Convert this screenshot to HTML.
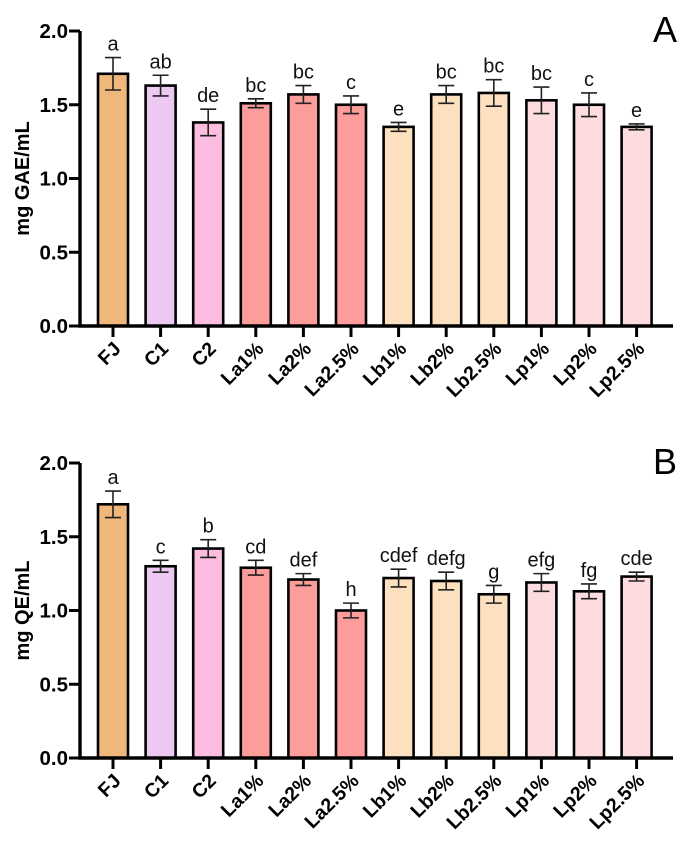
<!DOCTYPE html>
<html><head><meta charset="utf-8"><style>
html,body{margin:0;padding:0;background:#fff;}
svg text{font-family:"Liberation Sans",Arial,sans-serif;}
</style></head><body>
<svg id="chart" width="691" height="849" viewBox="0 0 691 849" xmlns="http://www.w3.org/2000/svg"></svg>
<script>
const categories = ["FJ","C1","C2","La1%","La2%","La2.5%","Lb1%","Lb2%","Lb2.5%","Lp1%","Lp2%","Lp2.5%"];
const colors = ["#f0b77a","#ecc8f3","#fcbde0","#fc9d9b","#fc9d9b","#fc9d9b","#fde0bf","#fde0bf","#fde0bf","#fddcdf","#fddcdf","#fddcdf"];
const valuesA = [1.71,1.63,1.38,1.51,1.57,1.50,1.35,1.57,1.58,1.53,1.50,1.35];
const errorsA = [0.11,0.07,0.09,0.03,0.06,0.06,0.03,0.06,0.09,0.09,0.08,0.02];
const lettersA = ["a","ab","de","bc","bc","c","e","bc","bc","bc","c","e"];
const valuesB = [1.72,1.30,1.42,1.29,1.21,1.00,1.22,1.20,1.11,1.19,1.13,1.23];
const errorsB = [0.09,0.04,0.06,0.05,0.04,0.05,0.06,0.06,0.06,0.06,0.05,0.03];
const lettersB = ["a","c","b","cd","def","h","cdef","defg","g","efg","fg","cde"];
const yTicks = [0,0.5,1.0,1.5,2.0];

const svg = document.getElementById('chart');
const NS = "http://www.w3.org/2000/svg";
function mk(tag, attrs, parent){const e=document.createElementNS(NS,tag);for(const k in attrs)e.setAttribute(k,attrs[k]);(parent||svg).appendChild(e);return e;}

function panel(id, top, bottom, values, errors, letters, ytitle, panelLabel){
  const g = mk('g',{});
  
  
  const x0 = 80, xEnd = 673;
  const y = v => bottom - (v/2.0)*(bottom-top);
  const xc = i => 113 + i*47.6;
  const bw = 30;
  values.forEach((v,i)=>{
    const r = mk('rect',{x:xc(i)-bw/2,y:y(v),width:bw,height:bottom-y(v),fill:colors[i],stroke:'#000','stroke-width':2.6},g);
    
    
    const hi=y(v+errors[i]), lo=y(v-errors[i]);
    const eb = mk('path',{d:`M${xc(i)-8},${hi}H${xc(i)+8}M${xc(i)},${hi}V${lo}M${xc(i)-8},${lo}H${xc(i)+8}`,stroke:'#222','stroke-width':1.6,fill:'none'},g);
    
    
    const t = mk('text',{x:xc(i),y:hi-7,'text-anchor':'middle','font-size':20,fill:'#111'},g);
    t.textContent = letters[i];
    
    
    const tk = mk('line',{x1:xc(i),y1:bottom,x2:xc(i),y2:bottom+11,stroke:'#000','stroke-width':3},g);
    
    
    const lb = mk('text',{x:0,y:0,'text-anchor':'end','font-size':19.5,'font-weight':'bold',transform:`translate(${xc(i)+9},${bottom+24}) rotate(-45)`},g);
    lb.textContent = categories[i];
    
    
  });
  const ax = mk('path',{d:`M${x0},${top}V${bottom}H${xEnd}`,stroke:'#000','stroke-width':3.4,fill:'none'},g);
  
  
  yTicks.forEach(v=>{
    const tl = mk('line',{x1:x0-11,y1:y(v),x2:x0,y2:y(v),stroke:'#000','stroke-width':3},g);
    
    
    const tt = mk('text',{x:x0-12,y:y(v)+7,'text-anchor':'end','font-size':20.5,'font-weight':'bold'},g);
    tt.textContent = v.toFixed(1);
    
    
  });
  const yt = mk('text',{x:0,y:0,'text-anchor':'middle','font-size':20,'font-weight':'bold',transform:`translate(29,${(top+bottom)/2}) rotate(-90)`},g);
  yt.textContent = ytitle;
  
  
  const pl = mk('text',{x:665,y:top+11,'text-anchor':'middle','font-size':36},g);
  pl.textContent = panelLabel;
  
  
}
panel('a', 31, 326, valuesA, errorsA, lettersA, 'mg GAE/mL', 'A');
panel('b', 463, 758, valuesB, errorsB, lettersB, 'mg QE/mL', 'B');
</script>
</body></html>
